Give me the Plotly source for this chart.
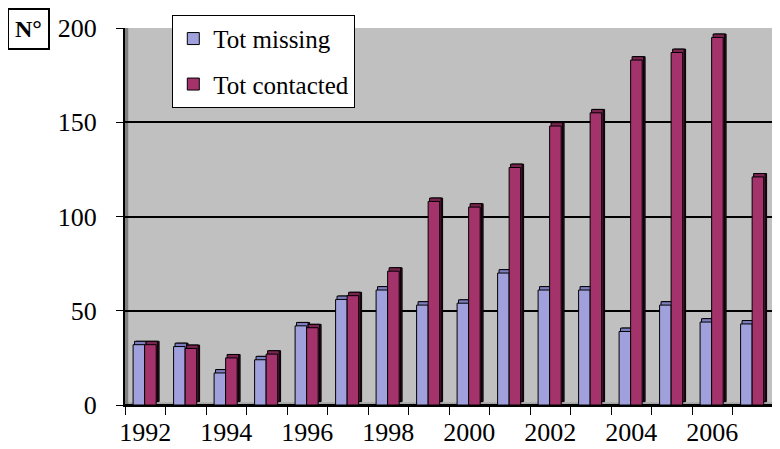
import plotly.graph_objects as go

years = [str(y) for y in range(1992, 2008)]
tot_missing = [32, 31, 17, 24, 42, 56, 61, 53, 54, 70, 61, 61, 39, 53, 44, 43]
tot_contacted = [32, 30, 25, 27, 41, 58, 71, 108, 105, 126, 148, 155, 183, 187, 195, 121]
tick_labels = [y if int(y) % 2 == 0 else "" for y in years]

DEPTH_X = 0.12   # 3D depth, category units
DEPTH_Y = 1.8    # 3D depth, value units
W = 0.285
FONT = "Liberation Serif, Times New Roman, Tinos, DejaVu Serif, serif"

series = [
    ("Tot missing", tot_missing, -0.30, "#a0a0dc", "#7d7dbf", "#3c3c78"),
    ("Tot contacted", tot_contacted, -0.015, "#a3336a", "#7a2450", "#3a0f25"),
]

fig = go.Figure()
line = dict(color="black", width=1)
for name, vals, off, front, top, side in series:
    fig.add_trace(go.Bar(x=years, y=vals, base=[DEPTH_Y] * len(vals), offset=off + DEPTH_X * 0.6,
                         width=W, marker=dict(color=side, line=line), showlegend=False,
                         hoverinfo="skip", legendgroup=name))
    fig.add_trace(go.Bar(x=years, y=vals, base=[DEPTH_Y] * len(vals), offset=off + DEPTH_X * 0.3,
                         width=W, marker=dict(color=top, line=line), showlegend=False,
                         hoverinfo="skip", legendgroup=name))
    fig.add_trace(go.Bar(x=years, y=vals, name=name, offset=off, width=W,
                         marker=dict(color=front, line=line), legendgroup=name))

# page body has an 8px default margin, so the figure is sized to fit inside it
fig.update_layout(
    width=772, height=441,
    margin=dict(l=117, r=7, t=20, b=44, autoexpand=False),
    barmode="overlay",
    paper_bgcolor="white",
    plot_bgcolor="#c0c0c0",
    font=dict(family=FONT, size=25, color="black"),
    legend=dict(x=0.073, y=1.035, xanchor="left", yanchor="top",
                bgcolor="white", bordercolor="black", borderwidth=1,
                font=dict(family=FONT, size=25), itemwidth=30, tracegroupgap=10,
                traceorder="grouped"),
    xaxis=dict(type="category", categoryorder="array", categoryarray=years,
               tickmode="array", tickvals=years, ticktext=tick_labels,
               tickson="boundaries", ticks="outside", ticklen=8, tickcolor="black",
               tickangle=0, automargin=False,
               tickfont=dict(family=FONT, size=26),
               showline=True, linecolor="black", linewidth=1.5,
               showgrid=False, range=[-0.5, 15.5], ticklabelstandoff=3),
    yaxis=dict(range=[0, 200], dtick=50, tickmode="linear", tick0=0,
               ticks="outside", ticklen=7, tickcolor="black", automargin=False,
               tickfont=dict(family=FONT, size=26),
               showline=True, linecolor="black", linewidth=2,
               showgrid=True, gridcolor="black", gridwidth=1.5,
               zeroline=True, zerolinecolor="black", zerolinewidth=1.5,
               ticklabelstandoff=14),
    shapes=[
        dict(type="rect", xref="paper", yref="y", x0=0, x1=1, y0=0, y1=1.5,
             fillcolor="#a8a8a8", line=dict(width=0), layer="below"),
        dict(type="rect", xref="paper", yref="paper", x0=0, x1=0.005, y0=0, y1=1,
             fillcolor="#808080", line=dict(width=0), layer="below"),
    ],
    annotations=[
        dict(text="<b>N°</b>", xref="paper", yref="paper", x=-0.182, y=1.053,
             xanchor="left", yanchor="top", showarrow=False,
             font=dict(family=FONT, size=24), bordercolor="black", borderwidth=2,
             borderpad=6, bgcolor="white"),
    ],
)

fig.write_html("out.html")
